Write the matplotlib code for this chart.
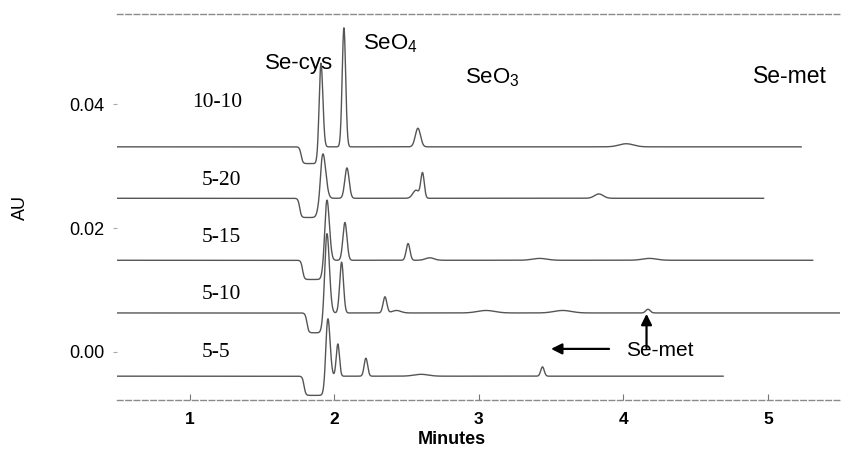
import numpy as np
import matplotlib
matplotlib.use("Agg")
import matplotlib.pyplot as plt

plt.rcParams['font.family'] = ['Liberation Sans', 'DejaVu Sans']
plt.rcParams['mathtext.fontset'] = 'custom'
plt.rcParams['mathtext.rm'] = 'Liberation Sans'

# Chromatogram traces (sample ratio labels), stacked with their own baselines
labels = ['10-10', '5-20', '5-15', '5-10', '5-5']
baseline = [0.0331, 0.0248, 0.0148, 0.0063, -0.0039]
t_end = [5.23, 4.97, 5.31, 5.50, 4.69]
t_start = 0.5

# Negative system dip ahead of the first peak: start, end, depth (AU)
dip_start = [1.77, 1.76, 1.78, 1.81, 1.79]
dip_end = [1.895, 1.905, 1.935, 1.935, 1.94]
dip_depth = [0.0027, 0.0031, 0.0031, 0.0032, 0.0031]

# Peak tables per trace: retention time (min), height above baseline (AU), width (min)
peak_times = [
    [1.907, 2.066, 2.578, 4.02],
    [1.920, 2.087, 2.565, 2.610, 3.83],
    [1.948, 2.073, 2.510, 2.66, 3.42, 4.18],
    [1.948, 2.050, 2.350, 2.43, 3.05, 3.58, 4.17],
    [1.955, 2.024, 2.218, 2.60, 3.44],
]
peak_heights = [
    [0.0137, 0.0192, 0.0030, 0.0005],
    [0.0073, 0.0049, 0.0013, 0.0040, 0.0007],
    [0.0099, 0.0061, 0.0027, 0.0004, 0.0003, 0.0003],
    [0.0130, 0.0082, 0.0026, 0.0004, 0.0004, 0.0004, 0.0006],
    [0.0094, 0.0052, 0.0029, 0.0003, 0.0015],
]
peak_widths = [
    [0.013, 0.012, 0.018, 0.05],
    [0.020, 0.015, 0.022, 0.012, 0.03],
    [0.017, 0.014, 0.013, 0.03, 0.05, 0.05],
    [0.017, 0.013, 0.013, 0.03, 0.06, 0.06, 0.015],
    [0.015, 0.011, 0.012, 0.05, 0.012],
]

# Label positions for each trace name
label_x = [1.014, 1.083, 1.083, 1.083, 1.083]
label_y = [0.0403, 0.0277, 0.01855, 0.00935, -0.00016]


def trace(i):
    t = np.linspace(t_start, t_end[i], 4000)
    y = np.full_like(t, baseline[i])
    step_in = 1 / (1 + np.exp(-(t - dip_start[i]) / 0.006))
    step_out = 1 / (1 + np.exp(-(t - dip_end[i]) / 0.005))
    y -= dip_depth[i] * (step_in - step_out)
    for rt, h, w in zip(peak_times[i], peak_heights[i], peak_widths[i]):
        y += h * np.exp(-0.5 * ((t - rt) / w) ** 2)
    return t, y


fig = plt.figure(figsize=(8.41, 4.54), dpi=100)
ax = fig.add_axes([0.139, 0.119, 0.860, 0.850])

for i in range(len(labels)):
    t, y = trace(i)
    ax.plot(t, y, color='#555555', lw=1.0)
    ax.text(label_x[i], label_y[i], labels[i], family=['Liberation Serif'],
            fontsize=15.5, ha='left', va='center')

# Species labels
ax.text(1.754, 0.0466, 'Se-cys', fontsize=16, ha='center', va='center')
ax.text(2.39, 0.0498, r'SeO$_\mathregular{4}$', fontsize=16, ha='center', va='center')
ax.text(3.09, 0.0442, r'SeO$_\mathregular{3}$', fontsize=16, ha='center', va='center')
ax.text(5.15, 0.0445, 'Se-met', fontsize=16.5, ha='center', va='center')
ax.text(4.25, 0.0003, 'Se-met', fontsize=15, ha='center', va='center')

ax.annotate('', xy=(3.48, 0.0005), xytext=(3.92, 0.0005),
            arrowprops=dict(arrowstyle='-|>', color='black', lw=1.6, mutation_scale=16))
ax.annotate('', xy=(4.16, 0.0066), xytext=(4.16, 0.0002),
            arrowprops=dict(arrowstyle='-|>', color='black', lw=1.6, mutation_scale=16))

ax.set_xlim(0.495, 5.5)
ax.set_ylim(-0.00774, 0.05452)
ax.set_xticks([1, 2, 3, 4, 5])
ax.set_yticks([0.0, 0.02, 0.04])
ax.set_yticklabels(['0.00', '0.02', '0.04'])
ax.tick_params(axis='x', direction='in', length=4, color='#777777', labelsize=12.5, pad=9)
ax.tick_params(axis='y', direction='out', length=3, color='#aaaaaa', labelsize=13, pad=6)
for lab in ax.get_xticklabels():
    lab.set_fontweight('bold')

for side in ['left', 'right']:
    ax.spines[side].set_visible(False)
for side in ['top', 'bottom']:
    ax.spines[side].set_linestyle((0, (4, 2)))
    ax.spines[side].set_color('#8a8a8a')
    ax.spines[side].set_linewidth(1.0)

ax.set_xlabel('Minutes', fontsize=13, fontweight='bold')
ax.xaxis.set_label_coords(0.463, -0.080)
ax.set_ylabel('AU', fontsize=13)
ax.yaxis.set_label_coords(-0.122, 0.5)

fig.savefig('out.png', dpi=100)
